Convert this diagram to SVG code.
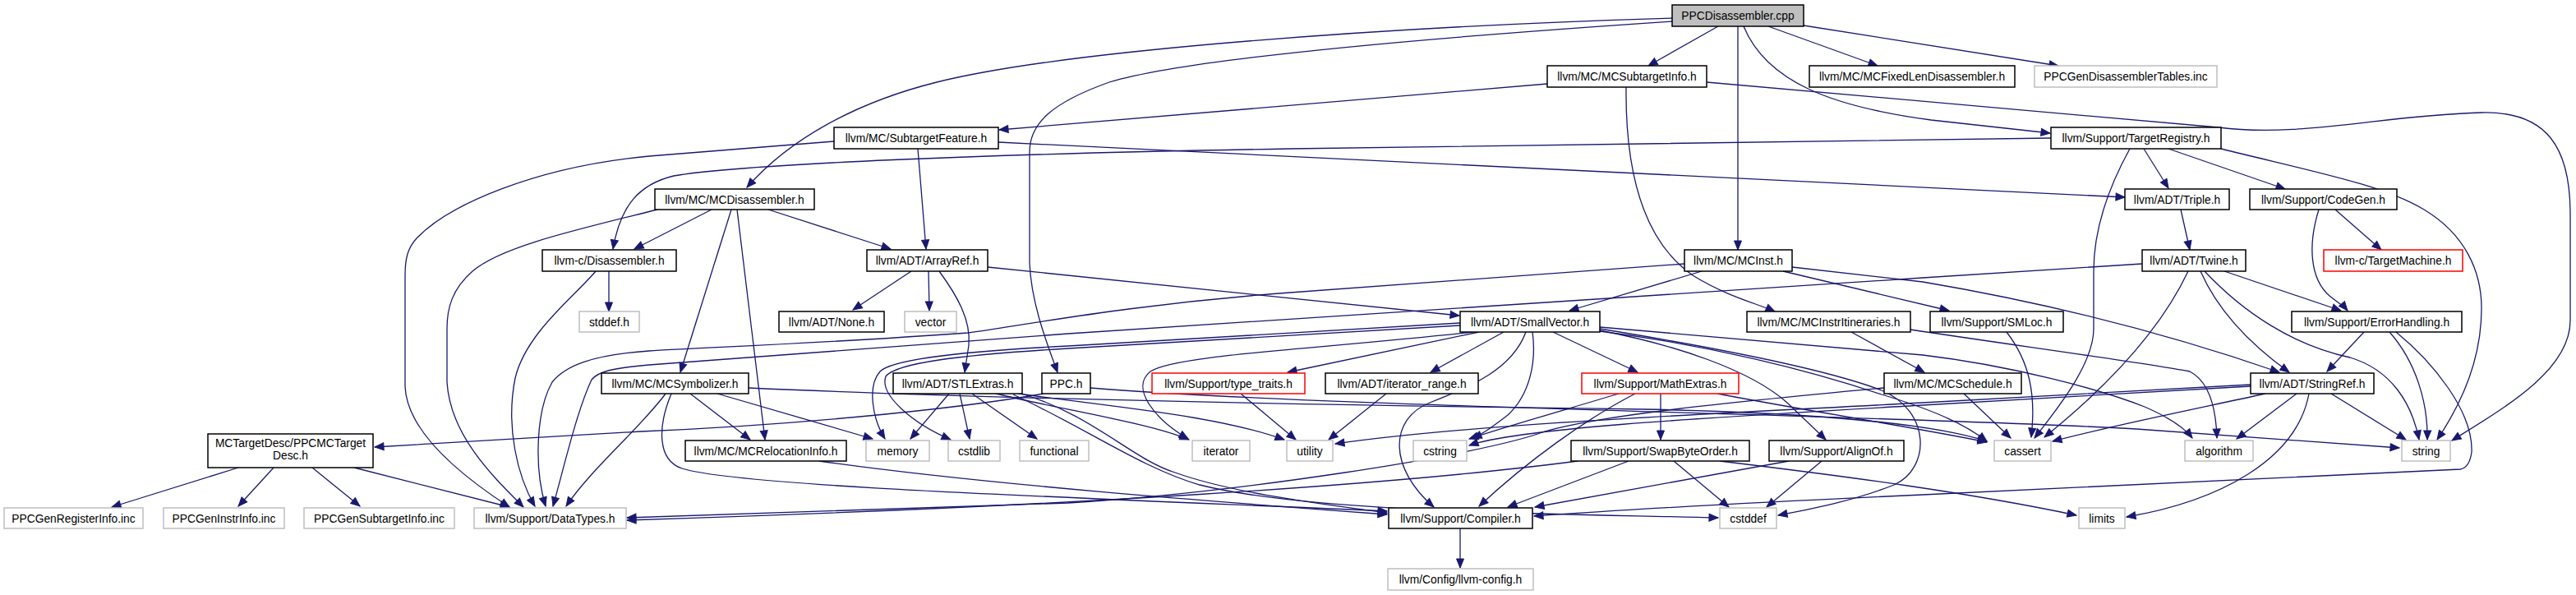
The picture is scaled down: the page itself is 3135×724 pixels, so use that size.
<svg xmlns="http://www.w3.org/2000/svg" width="3135" height="724" viewBox="0 0 3135 724">
<defs>
<style>
.n rect{fill:#fff;stroke:#000;stroke-width:1.5}
.g rect{fill:#fff;stroke:#bfbfbf;stroke-width:1.5}
.r rect{fill:#fff;stroke:#ff0000;stroke-width:1.5}
.root rect{fill:#bfbfbf;stroke:#000;stroke-width:1.5}
text{font-family:"Liberation Sans",Arial,sans-serif;font-size:13.8px;fill:#000;text-anchor:middle}
#edges path{fill:none;stroke:#191970;stroke-width:1.3;marker-end:url(#a)}
</style>
<marker id="a" markerUnits="userSpaceOnUse" markerWidth="12" markerHeight="10" refX="11" refY="4.5" orient="auto" viewBox="0 0 12 10" overflow="visible">
<path d="M0,0 L11,4.5 L0,9 Z" fill="#191970" stroke="#191970" stroke-width="1"/>
</marker>
</defs>
<rect width="3135" height="724" fill="#fff"/>
<g id="edges">
<path d="M2035,22 C1700,32 1300,60 1140,100 C1040,125 960,170 909,228"/>
<path d="M2035,26 C1750,45 1450,70 1350,100 C1280,125 1253,150 1253,185 L1253,320 C1255,370 1275,420 1287,453"/>
<path d="M2091,32 L2006,80"/>
<path d="M2152,32 L2285,80"/>
<path d="M2195,31 L2505,80"/>
<path d="M2115,32 L2115,304"/>
<path d="M2122,32 C2150,100 2230,130 2350,146 L2495,162"/>
<path d="M1883,102 L1216,158"/>
<path d="M1979,106 C1978,200 1995,290 2060,335 C2100,360 2140,370 2160,379"/>
<path d="M2077,100 L2700,155 C2800,168 2900,140 3020,137 C3100,135 3128,180 3128,260 L3128,390 C3128,450 3050,495 2984,536"/>
<path d="M1117,181 L1127,303"/>
<path d="M1215,173 L2586,240"/>
<path d="M1015,172 L790,190 C650,203 545,250 507,290 C496,302 493,315 493,335 L493,470 C495,525 560,578 620,617"/>
<path d="M2496,168 L1570,181 C1200,187 900,200 820,214 C778,224 755,250 746,303"/>
<path d="M2609,181 L2639,229"/>
<path d="M2639,181 L2781,230"/>
<path d="M2592,181 C2565,230 2548,280 2548,330 L2548,400 C2548,440 2510,490 2476,533"/>
<path d="M2703,181 C2820,210 2900,225 2950,255 C3000,285 3020,330 3020,375 C3020,430 3000,485 2966,535"/>
<path d="M866,255 L772,303"/>
<path d="M935,255 L1084,303"/>
<path d="M890,255 L828,453"/>
<path d="M897,255 L931,535"/>
<path d="M800,255 C700,280 610,300 575,330 C550,352 544,375 544,400 L544,465 C548,530 600,580 637,617"/>
<path d="M741,330 L741,379"/>
<path d="M725,330 C700,360 640,405 627,460 C615,520 630,580 651,616"/>
<path d="M1109,330 L1038,377"/>
<path d="M1130,330 L1131,378"/>
<path d="M1143,330 C1165,360 1182,390 1179,420 L1174,453"/>
<path d="M1202,325 L1776,384"/>
<path d="M2071,330 L1910,378"/>
<path d="M2181,325 L2340,343 C2500,370 2650,410 2774,453"/>
<path d="M2170,330 L2372,378"/>
<path d="M2050,321 L1570,356 C1380,370 1250,395 1178,405 C1000,418 850,423 790,427 C720,432 688,445 672,465 C652,500 650,570 664,616"/>
<path d="M2607,321 L2340,338 L1820,372 C1600,388 1400,400 1300,406 L790,444 C745,448 728,452 720,462 C702,500 686,570 673,616"/>
<path d="M2663,330 C2630,400 2565,470 2488,532"/>
<path d="M2678,330 C2700,380 2740,420 2786,453"/>
<path d="M2683,330 C2730,380 2790,420 2860,435 C2910,450 2935,490 2944,535"/>
<path d="M2707,330 L2849,378"/>
<path d="M2654,255 L2665,304"/>
<path d="M2842,255 L2898,304"/>
<path d="M2822,255 C2808,300 2812,340 2835,360 C2845,368 2852,372 2857,378"/>
<path d="M1777,393 L1300,421 C1160,428 1085,438 1071,452 C1055,470 1062,510 1077,534"/>
<path d="M1777,396 L1300,424 C1165,432 1090,442 1078,458 C1070,480 1110,515 1157,535"/>
<path d="M1792,404 C1600,425 1430,432 1400,452 C1375,472 1405,510 1446,534"/>
<path d="M1800,404 L1567,453"/>
<path d="M1830,404 L1741,453"/>
<path d="M1857,404 C1840,450 1790,470 1740,490 C1690,510 1690,570 1745,617"/>
<path d="M1865,404 C1870,440 1862,480 1835,505 C1815,520 1805,528 1792,533"/>
<path d="M1890,404 L1993,453"/>
<path d="M1947,402 C2040,420 2130,450 2175,490 L2222,535"/>
<path d="M1947,400 C2100,425 2230,452 2290,475 C2350,500 2350,570 2305,590 C2255,610 2200,620 2164,627"/>
<path d="M1947,403 C2080,420 2200,450 2290,480 C2350,498 2390,515 2418,537"/>
<path d="M1947,398 C2100,412 2250,425 2340,432 C2450,445 2560,475 2610,495 C2640,508 2658,520 2668,533"/>
<path d="M2253,404 L2342,453"/>
<path d="M2325,401 C2450,420 2600,440 2665,452 C2690,465 2697,500 2698,533"/>
<path d="M2390,479 L2447,533"/>
<path d="M2293,472 C2100,490 1950,505 1880,525 C1800,555 1500,600 1300,612 L763,630"/>
<path d="M2442,404 C2470,440 2478,480 2472,532"/>
<path d="M2877,404 L2832,452"/>
<path d="M2908,404 C2940,440 2955,490 2954,535"/>
<path d="M2916,404 C2960,440 3010,500 3008,550 C3006,565 3000,570 2994,571 L2340,602 C2100,613 1950,622 1867,628"/>
<path d="M2757,479 C2660,500 2570,518 2498,537"/>
<path d="M2795,479 L2722,534"/>
<path d="M2810,479 C2795,560 2700,610 2588,629"/>
<path d="M2837,479 L2928,535"/>
<path d="M2739,468 L2340,490 C2100,503 1800,515 1625,540"/>
<path d="M2739,470 L2340,493 C2100,507 1850,520 1788,542"/>
<path d="M2021,479 L2021,535"/>
<path d="M1990,479 C1930,510 1860,560 1800,616"/>
<path d="M1970,479 C1900,500 1830,520 1788,534"/>
<path d="M2090,479 C2200,500 2330,520 2418,538"/>
<path d="M1982,561 L1835,617"/>
<path d="M2037,561 L2104,617"/>
<path d="M2093,561 C2250,580 2400,600 2527,627"/>
<path d="M1920,561 C1700,590 1300,616 763,633"/>
<path d="M2177,561 L1868,617"/>
<path d="M2217,561 L2150,617"/>
<path d="M1777,643 L1777,691"/>
<path d="M1155,479 L1108,534"/>
<path d="M1168,479 L1180,534"/>
<path d="M1183,479 L1262,534"/>
<path d="M1212,479 C1300,500 1400,515 1447,535"/>
<path d="M1240,479 C1350,495 1480,505 1563,535"/>
<path d="M1243,479 C1330,505 1380,560 1430,575 C1500,600 1600,612 1688,624"/>
<path d="M1233,480 C1320,520 1390,570 1460,590 C1600,625 1900,625 2091,630"/>
<path d="M840,479 L913,535"/>
<path d="M873,479 L1062,534"/>
<path d="M810,479 C780,520 720,570 689,616"/>
<path d="M817,479 C800,520 800,560 830,570 C900,592 1300,605 1688,622"/>
<path d="M911,472 C1200,485 1600,493 2000,498 C2200,502 2350,515 2418,537"/>
<path d="M997,561 C1200,590 1500,612 1688,626"/>
<path d="M1270,479 C1150,500 950,518 780,525 L456,544"/>
<path d="M1327,472 C1600,495 2300,505 2600,522 L2920,545"/>
<path d="M1510,479 L1577,535"/>
<path d="M1687,479 L1617,535"/>
<path d="M290,569 L136,617"/>
<path d="M333,569 L290,616"/>
<path d="M380,569 L438,616"/>
<path d="M431,569 L620,617"/>
</g>
<g id="n0" class="root"><rect x="2035" y="6" width="160" height="26"/><text x="2115" y="24">PPCDisassembler.cpp</text></g>
<g id="n1" class="n"><rect x="797" y="230" width="194" height="25"/><text x="894" y="247.5">llvm/MC/MCDisassembler.h</text></g>
<g id="n2" class="n"><rect x="1883" y="80" width="194" height="26"/><text x="1980" y="98">llvm/MC/MCSubtargetInfo.h</text></g>
<g id="n3" class="n"><rect x="2202" y="80" width="250" height="26"/><text x="2327" y="98">llvm/MC/MCFixedLenDisassembler.h</text></g>
<g id="n4" class="g"><rect x="2476" y="80" width="222" height="26"/><text x="2587" y="98">PPCGenDisassemblerTables.inc</text></g>
<g id="n5" class="n"><rect x="1015" y="155" width="200" height="26"/><text x="1115" y="173">llvm/MC/SubtargetFeature.h</text></g>
<g id="n6" class="n"><rect x="2496" y="155" width="207" height="26"/><text x="2599.5" y="173">llvm/Support/TargetRegistry.h</text></g>
<g id="n7" class="n"><rect x="660" y="304" width="163" height="26"/><text x="741.5" y="322">llvm-c/Disassembler.h</text></g>
<g id="n8" class="n"><rect x="1055" y="304" width="147" height="26"/><text x="1128.5" y="322">llvm/ADT/ArrayRef.h</text></g>
<g id="n9" class="n"><rect x="2050" y="304" width="131" height="26"/><text x="2115.5" y="322">llvm/MC/MCInst.h</text></g>
<g id="n10" class="n"><rect x="2586" y="230" width="127" height="25"/><text x="2649.5" y="247.5">llvm/ADT/Triple.h</text></g>
<g id="n11" class="n"><rect x="2738" y="230" width="179" height="25"/><text x="2827.5" y="247.5">llvm/Support/CodeGen.h</text></g>
<g id="n12" class="n"><rect x="2607" y="304" width="126" height="26"/><text x="2670" y="322">llvm/ADT/Twine.h</text></g>
<g id="n13" class="r"><rect x="2828" y="304" width="169" height="26"/><text x="2912.5" y="322">llvm-c/TargetMachine.h</text></g>
<g id="n14" class="g"><rect x="705" y="379" width="73" height="25"/><text x="741.5" y="396.5">stddef.h</text></g>
<g id="n15" class="n"><rect x="948" y="379" width="128" height="25"/><text x="1012" y="396.5">llvm/ADT/None.h</text></g>
<g id="n16" class="g"><rect x="1101" y="379" width="63" height="25"/><text x="1132.5" y="396.5">vector</text></g>
<g id="n17" class="n"><rect x="1777" y="379" width="170" height="25"/><text x="1862" y="396.5">llvm/ADT/SmallVector.h</text></g>
<g id="n18" class="n"><rect x="2126" y="379" width="199" height="25"/><text x="2225.5" y="396.5">llvm/MC/MCInstrItineraries.h</text></g>
<g id="n19" class="n"><rect x="2349" y="379" width="162" height="25"/><text x="2430" y="396.5">llvm/Support/SMLoc.h</text></g>
<g id="n20" class="n"><rect x="2789" y="379" width="207" height="25"/><text x="2892.5" y="396.5">llvm/Support/ErrorHandling.h</text></g>
<g id="n21" class="n"><rect x="732" y="454" width="179" height="25"/><text x="821.5" y="471.5">llvm/MC/MCSymbolizer.h</text></g>
<g id="n22" class="n"><rect x="1087" y="454" width="157" height="25"/><text x="1165.5" y="471.5">llvm/ADT/STLExtras.h</text></g>
<g id="n23" class="n"><rect x="1268" y="454" width="59" height="25"/><text x="1297.5" y="471.5">PPC.h</text></g>
<g id="n24" class="r"><rect x="1402" y="454" width="186" height="25"/><text x="1495" y="471.5">llvm/Support/type_traits.h</text></g>
<g id="n25" class="n"><rect x="1613" y="454" width="186" height="25"/><text x="1706" y="471.5">llvm/ADT/iterator_range.h</text></g>
<g id="n26" class="r"><rect x="1925" y="454" width="191" height="25"/><text x="2020.5" y="471.5">llvm/Support/MathExtras.h</text></g>
<g id="n27" class="n"><rect x="2293" y="454" width="167" height="25"/><text x="2376.5" y="471.5">llvm/MC/MCSchedule.h</text></g>
<g id="n28" class="n"><rect x="2739" y="454" width="150" height="25"/><text x="2814" y="471.5">llvm/ADT/StringRef.h</text></g>
<g id="n29" class="n"><rect x="253" y="528" width="201" height="41"/><text x="353.5" y="544">MCTargetDesc/PPCMCTarget</text><text x="353.5" y="559">Desc.h</text></g>
<g id="n30" class="n"><rect x="834" y="536" width="196" height="25"/><text x="932" y="553.5">llvm/MC/MCRelocationInfo.h</text></g>
<g id="n31" class="g"><rect x="1054" y="536" width="77" height="25"/><text x="1092.5" y="553.5">memory</text></g>
<g id="n32" class="g"><rect x="1154" y="536" width="63" height="25"/><text x="1185.5" y="553.5">cstdlib</text></g>
<g id="n33" class="g"><rect x="1241" y="536" width="84" height="25"/><text x="1283" y="553.5">functional</text></g>
<g id="n34" class="g"><rect x="1451" y="536" width="70" height="25"/><text x="1486" y="553.5">iterator</text></g>
<g id="n35" class="g"><rect x="1566" y="536" width="56" height="25"/><text x="1594" y="553.5">utility</text></g>
<g id="n36" class="g"><rect x="1720" y="536" width="65" height="25"/><text x="1752.5" y="553.5">cstring</text></g>
<g id="n37" class="n"><rect x="1912" y="536" width="217" height="25"/><text x="2020.5" y="553.5">llvm/Support/SwapByteOrder.h</text></g>
<g id="n38" class="n"><rect x="2153" y="536" width="164" height="25"/><text x="2235" y="553.5">llvm/Support/AlignOf.h</text></g>
<g id="n39" class="g"><rect x="2427" y="536" width="69" height="25"/><text x="2461.5" y="553.5">cassert</text></g>
<g id="n40" class="g"><rect x="2659" y="536" width="83" height="25"/><text x="2700.5" y="553.5">algorithm</text></g>
<g id="n41" class="g"><rect x="2923" y="536" width="59" height="25"/><text x="2952.5" y="553.5">string</text></g>
<g id="n42" class="g"><rect x="5" y="618" width="169" height="25"/><text x="89.5" y="635.5">PPCGenRegisterInfo.inc</text></g>
<g id="n43" class="g"><rect x="199" y="618" width="147" height="25"/><text x="272.5" y="635.5">PPCGenInstrInfo.inc</text></g>
<g id="n44" class="g"><rect x="370" y="618" width="183" height="25"/><text x="461.5" y="635.5">PPCGenSubtargetInfo.inc</text></g>
<g id="n45" class="g"><rect x="577" y="618" width="185" height="25"/><text x="669.5" y="635.5">llvm/Support/DataTypes.h</text></g>
<g id="n46" class="n"><rect x="1690" y="618" width="175" height="25"/><text x="1777.5" y="635.5">llvm/Support/Compiler.h</text></g>
<g id="n47" class="g"><rect x="2093" y="618" width="69" height="25"/><text x="2127.5" y="635.5">cstddef</text></g>
<g id="n48" class="g"><rect x="2530" y="618" width="56" height="25"/><text x="2558" y="635.5">limits</text></g>
<g id="n49" class="g"><rect x="1689" y="692" width="177" height="26"/><text x="1777.5" y="710">llvm/Config/llvm-config.h</text></g>
</svg>
